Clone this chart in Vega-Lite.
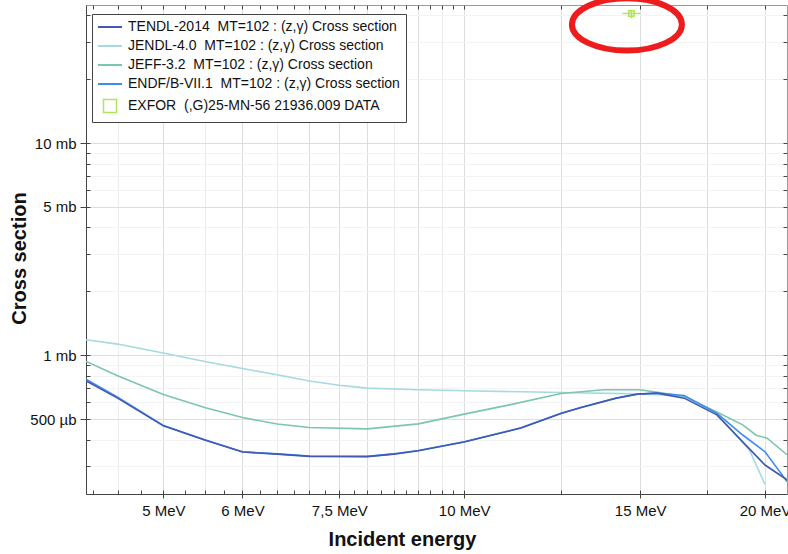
{
  "$schema": "https://vega.github.io/schema/vega-lite/v6.json",
  "width": 701,
  "height": 489,
  "autosize": {"type": "none"},
  "padding": {"left": 86, "top": 5, "right": 1, "bottom": 60},
  "background": "white",
  "config": {
    "view": {"stroke": "#9a9a9a", "strokeWidth": 1},
    "axis": {
      "labelFont": "Liberation Sans",
      "labelFontSize": 15,
      "labelColor": "#111111",
      "titleFont": "Liberation Sans",
      "titleFontSize": 20,
      "titleFontWeight": "bold",
      "titleColor": "#111111",
      "tickColor": "#444444",
      "domainColor": "#444444",
      "labelFlush": false,
      "labelOverlap": false
    }
  },
  "datasets": {
    "evaluated": [
      {"lib": "JENDL-4.0", "E": 4.184, "xs": 1.183},
      {"lib": "JENDL-4.0", "E": 4.5, "xs": 1.129},
      {"lib": "JENDL-4.0", "E": 5.0, "xs": 1.024},
      {"lib": "JENDL-4.0", "E": 5.5, "xs": 0.935},
      {"lib": "JENDL-4.0", "E": 6.0, "xs": 0.866},
      {"lib": "JENDL-4.0", "E": 6.5, "xs": 0.809},
      {"lib": "JENDL-4.0", "E": 7.0, "xs": 0.757},
      {"lib": "JENDL-4.0", "E": 7.5, "xs": 0.722},
      {"lib": "JENDL-4.0", "E": 8.0, "xs": 0.700},
      {"lib": "JENDL-4.0", "E": 9.0, "xs": 0.688},
      {"lib": "JENDL-4.0", "E": 10.0, "xs": 0.680},
      {"lib": "JENDL-4.0", "E": 11.4, "xs": 0.673},
      {"lib": "JENDL-4.0", "E": 12.5, "xs": 0.668},
      {"lib": "JENDL-4.0", "E": 14.9, "xs": 0.658},
      {"lib": "JENDL-4.0", "E": 15.8, "xs": 0.651},
      {"lib": "JENDL-4.0", "E": 16.6, "xs": 0.640},
      {"lib": "JENDL-4.0", "E": 17.9, "xs": 0.532},
      {"lib": "JENDL-4.0", "E": 19.3, "xs": 0.357},
      {"lib": "JENDL-4.0", "E": 20.0, "xs": 0.246},

      {"lib": "JEFF-3.2", "E": 4.184, "xs": 0.935},
      {"lib": "JEFF-3.2", "E": 4.5, "xs": 0.800},
      {"lib": "JEFF-3.2", "E": 5.0, "xs": 0.653},
      {"lib": "JEFF-3.2", "E": 5.5, "xs": 0.567},
      {"lib": "JEFF-3.2", "E": 6.0, "xs": 0.509},
      {"lib": "JEFF-3.2", "E": 6.5, "xs": 0.474},
      {"lib": "JEFF-3.2", "E": 7.0, "xs": 0.457},
      {"lib": "JEFF-3.2", "E": 8.0, "xs": 0.450},
      {"lib": "JEFF-3.2", "E": 9.0, "xs": 0.475},
      {"lib": "JEFF-3.2", "E": 10.0, "xs": 0.528},
      {"lib": "JEFF-3.2", "E": 11.1, "xs": 0.584},
      {"lib": "JEFF-3.2", "E": 12.5, "xs": 0.660},
      {"lib": "JEFF-3.2", "E": 13.8, "xs": 0.688},
      {"lib": "JEFF-3.2", "E": 15.0, "xs": 0.688},
      {"lib": "JEFF-3.2", "E": 15.8, "xs": 0.663},
      {"lib": "JEFF-3.2", "E": 16.6, "xs": 0.640},
      {"lib": "JEFF-3.2", "E": 17.9, "xs": 0.540},
      {"lib": "JEFF-3.2", "E": 19.0, "xs": 0.470},
      {"lib": "JEFF-3.2", "E": 19.6, "xs": 0.420},
      {"lib": "JEFF-3.2", "E": 20.1, "xs": 0.407},
      {"lib": "JEFF-3.2", "E": 21.04, "xs": 0.340},

      {"lib": "ENDF/B-VII.1", "E": 4.184, "xs": 0.772},
      {"lib": "ENDF/B-VII.1", "E": 4.5, "xs": 0.635},
      {"lib": "ENDF/B-VII.1", "E": 5.0, "xs": 0.467},
      {"lib": "ENDF/B-VII.1", "E": 5.5, "xs": 0.400},
      {"lib": "ENDF/B-VII.1", "E": 6.0, "xs": 0.351},
      {"lib": "ENDF/B-VII.1", "E": 6.5, "xs": 0.343},
      {"lib": "ENDF/B-VII.1", "E": 7.0, "xs": 0.335},
      {"lib": "ENDF/B-VII.1", "E": 8.0, "xs": 0.334},
      {"lib": "ENDF/B-VII.1", "E": 8.5, "xs": 0.343},
      {"lib": "ENDF/B-VII.1", "E": 9.0, "xs": 0.356},
      {"lib": "ENDF/B-VII.1", "E": 10.0, "xs": 0.391},
      {"lib": "ENDF/B-VII.1", "E": 11.4, "xs": 0.455},
      {"lib": "ENDF/B-VII.1", "E": 12.5, "xs": 0.533},
      {"lib": "ENDF/B-VII.1", "E": 13.1, "xs": 0.569},
      {"lib": "ENDF/B-VII.1", "E": 14.2, "xs": 0.629},
      {"lib": "ENDF/B-VII.1", "E": 14.9, "xs": 0.655},
      {"lib": "ENDF/B-VII.1", "E": 15.6, "xs": 0.664},
      {"lib": "ENDF/B-VII.1", "E": 16.6, "xs": 0.646},
      {"lib": "ENDF/B-VII.1", "E": 17.9, "xs": 0.534},
      {"lib": "ENDF/B-VII.1", "E": 19.0, "xs": 0.421},
      {"lib": "ENDF/B-VII.1", "E": 20.0, "xs": 0.351},
      {"lib": "ENDF/B-VII.1", "E": 21.04, "xs": 0.254},

      {"lib": "TENDL-2014", "E": 4.184, "xs": 0.758},
      {"lib": "TENDL-2014", "E": 4.5, "xs": 0.628},
      {"lib": "TENDL-2014", "E": 5.0, "xs": 0.465},
      {"lib": "TENDL-2014", "E": 5.5, "xs": 0.399},
      {"lib": "TENDL-2014", "E": 6.0, "xs": 0.350},
      {"lib": "TENDL-2014", "E": 6.5, "xs": 0.342},
      {"lib": "TENDL-2014", "E": 7.0, "xs": 0.334},
      {"lib": "TENDL-2014", "E": 8.0, "xs": 0.333},
      {"lib": "TENDL-2014", "E": 8.5, "xs": 0.342},
      {"lib": "TENDL-2014", "E": 9.0, "xs": 0.355},
      {"lib": "TENDL-2014", "E": 10.0, "xs": 0.390},
      {"lib": "TENDL-2014", "E": 11.4, "xs": 0.454},
      {"lib": "TENDL-2014", "E": 12.5, "xs": 0.532},
      {"lib": "TENDL-2014", "E": 13.1, "xs": 0.568},
      {"lib": "TENDL-2014", "E": 14.2, "xs": 0.628},
      {"lib": "TENDL-2014", "E": 14.9, "xs": 0.656},
      {"lib": "TENDL-2014", "E": 15.6, "xs": 0.663},
      {"lib": "TENDL-2014", "E": 16.6, "xs": 0.628},
      {"lib": "TENDL-2014", "E": 17.9, "xs": 0.524},
      {"lib": "TENDL-2014", "E": 19.2, "xs": 0.371},
      {"lib": "TENDL-2014", "E": 20.0, "xs": 0.304},
      {"lib": "TENDL-2014", "E": 21.04, "xs": 0.259}
    ],
    "exfor": [
      {"E": 14.7, "Elo": 14.4, "Ehi": 15.0, "xs": 40.8, "lo": 38.7, "hi": 42.2}
    ],
    "highlight": [
      {"E": 14.55, "xs": 36.2}
    ]
  },
  "resolve": {"axis": {"x": "independent", "y": "independent"}},
  "layer": [
    {
      "data": {"name": "evaluated"},
      "mark": {"type": "line", "strokeWidth": 1.6, "clip": true},
      "encoding": {
        "x": {
          "field": "E", "type": "quantitative",
          "scale": {"type": "log", "domain": [4.184, 21.04], "nice": false, "zero": false},
          "axis": {
            "orient": "bottom",
            "values": [5, 6, 7.5, 10, 15, 20],
            "labelExpr": "datum.value === 7.5 ? '7,5 MeV' : datum.value + ' MeV'",
            "tickSize": 4,
            "labelPadding": 5,
            "grid": false,
            "title": "Incident energy",
            "titleX": 316,
            "titleY": 35,
            "titleBaseline": "top"
          }
        },
        "y": {
          "field": "xs", "type": "quantitative",
          "scale": {"type": "log", "domain": [0.222, 44.7], "nice": false, "zero": false},
          "axis": {
            "orient": "left",
            "values": [0.5, 1, 5, 10],
            "labelExpr": "datum.value < 1 ? (datum.value * 1000) + ' µb' : datum.value + ' mb'",
            "tickSize": 6,
            "labelPadding": 4,
            "grid": false,
            "title": "Cross section",
            "titleX": -61,
            "titleY": 253,
            "titleBaseline": "alphabetic"
          }
        },
        "color": {
          "field": "lib", "type": "nominal",
          "scale": {
            "domain": ["TENDL-2014", "JENDL-4.0", "JEFF-3.2", "ENDF/B-VII.1", "EXFOR"],
            "range": ["#4159b0", "#a6d9e0", "#7cc6aa", "#3d8ef0", "#b2e35f"]
          },
          "legend": {
            "title": null,
            "orient": "none",
            "legendX": 6,
            "legendY": 9,
            "padding": 6,
            "rowPadding": 5,
            "symbolOffset": 5,
            "labelOffset": 11,
            "symbolSize": 100,
            "labelFont": "Liberation Sans",
            "labelFontSize": 14,
            "labelColor": "#111111",
            "labelLimit": 400,
            "strokeColor": "#444444",
            "fillColor": "white",
            "cornerRadius": 0,
            "labelExpr": "datum.value === 'EXFOR' ? 'EXFOR\u00a0 (,G)25-MN-56 21936.009 DATA' : datum.value + '\u00a0 MT=102 : (z,γ) Cross section'",
            "encode": {
              "symbols": {
                "update": {
                  "shape": {"signal": "datum.value === 'EXFOR' ? 'square' : 'stroke'"},
                  "size": {"signal": "datum.value === 'EXFOR' ? 169 : 576"},
                  "strokeWidth": {"signal": "datum.value === 'EXFOR' ? 1.5 : 2"},
                  "fill": {"value": "transparent"},
                  "stroke": {"scale": "color", "field": "value"}
                }
              }
            }
          }
        }
      }
    },
    {
      "data": {"name": "exfor"},
      "mark": {"type": "rule", "color": "#b2e35f", "strokeWidth": 1.5},
      "encoding": {
        "x": {
          "field": "Elo", "type": "quantitative",
          "scale": {"type": "log", "domain": [4.184, 21.04], "nice": false, "zero": false},
          "axis": {
            "orient": "bottom",
            "values": [4.25, 4.5, 4.75, 5, 5.25, 5.5, 5.75, 6, 6.25, 6.5, 6.75, 7, 7.25, 7.5, 7.75, 8, 8.25, 8.5, 8.75, 9, 9.25, 9.5, 9.75, 10, 12.5, 15, 17.5, 20],
            "labels": false,
            "domain": false,
            "tickSize": -4,
            "title": null,
            "grid": true,
            "gridColor": {"condition": {"test": "datum.value % 1 === 0 || datum.value === 7.5 || datum.value >= 10", "value": "#dedede"}, "value": "#ececec"},
            "gridOpacity": {"condition": {"test": "(datum.value * 2) % 1 !== 0", "value": 0}, "value": 1}
          }
        },
        "x2": {"field": "Ehi"},
        "y": {
          "field": "xs", "type": "quantitative",
          "scale": {"type": "log", "domain": [0.222, 44.7], "nice": false, "zero": false},
          "axis": {
            "orient": "left",
            "values": [0.3, 0.4, 0.5, 0.6, 0.7, 0.8, 0.9, 1, 2, 3, 4, 5, 6, 7, 8, 9, 10, 20, 30, 40],
            "labels": false,
            "domain": false,
            "tickSize": -4,
            "title": null,
            "grid": true,
            "gridColor": {"condition": {"test": "datum.value === 0.5 || datum.value === 1 || datum.value === 5 || datum.value === 10", "value": "#dedede"}, "value": "#f3f3f3"}
          }
        }
      }
    },
    {
      "data": {"name": "exfor"},
      "mark": {"type": "rule", "color": "#b2e35f", "strokeWidth": 1.5},
      "encoding": {
        "x": {
          "field": "E", "type": "quantitative",
          "scale": {"type": "log", "domain": [4.184, 21.04], "nice": false, "zero": false},
          "axis": {
            "orient": "top",
            "values": [4.25, 4.5, 4.75, 5, 5.25, 5.5, 5.75, 6, 6.25, 6.5, 6.75, 7, 7.25, 7.5, 7.75, 8, 8.25, 8.5, 8.75, 9, 9.25, 9.5, 9.75, 10, 12.5, 15, 17.5, 20],
            "labels": false,
            "domain": false,
            "tickSize": -4,
            "title": null,
            "grid": false
          }
        },
        "y": {
          "field": "lo", "type": "quantitative",
          "scale": {"type": "log", "domain": [0.222, 44.7], "nice": false, "zero": false},
          "axis": {
            "orient": "right",
            "values": [0.3, 0.4, 0.5, 0.6, 0.7, 0.8, 0.9, 1, 2, 3, 4, 5, 6, 7, 8, 9, 10, 20, 30, 40],
            "labels": false,
            "domain": false,
            "tickSize": -4,
            "title": null,
            "grid": false
          }
        },
        "y2": {"field": "hi"}
      }
    },
    {
      "data": {"name": "exfor"},
      "mark": {"type": "point", "shape": "square", "filled": false, "color": "#b2e35f", "strokeWidth": 1.5, "size": 30, "opacity": 1},
      "encoding": {
        "x": {"field": "E", "type": "quantitative", "scale": {"type": "log", "domain": [4.184, 21.04], "nice": false, "zero": false}, "axis": null},
        "y": {"field": "xs", "type": "quantitative", "scale": {"type": "log", "domain": [0.222, 44.7], "nice": false, "zero": false}, "axis": null}
      }
    },
    {
      "data": {"name": "highlight"},
      "mark": {
        "type": "point",
        "shape": "M-1,0C-1,-0.262 -0.552,-0.475 0,-0.475C0.552,-0.475 1,-0.262 1,0C1,0.262 0.552,0.475 0,0.475C-0.552,0.475 -1,0.262 -1,0Z",
        "filled": false,
        "color": "#ee1c1c",
        "strokeWidth": 6,
        "size": 12100,
        "opacity": 1
      },
      "encoding": {
        "x": {"field": "E", "type": "quantitative", "scale": {"type": "log", "domain": [4.184, 21.04], "nice": false, "zero": false}, "axis": null},
        "y": {"field": "xs", "type": "quantitative", "scale": {"type": "log", "domain": [0.222, 44.7], "nice": false, "zero": false}, "axis": null}
      }
    }
  ]
}
